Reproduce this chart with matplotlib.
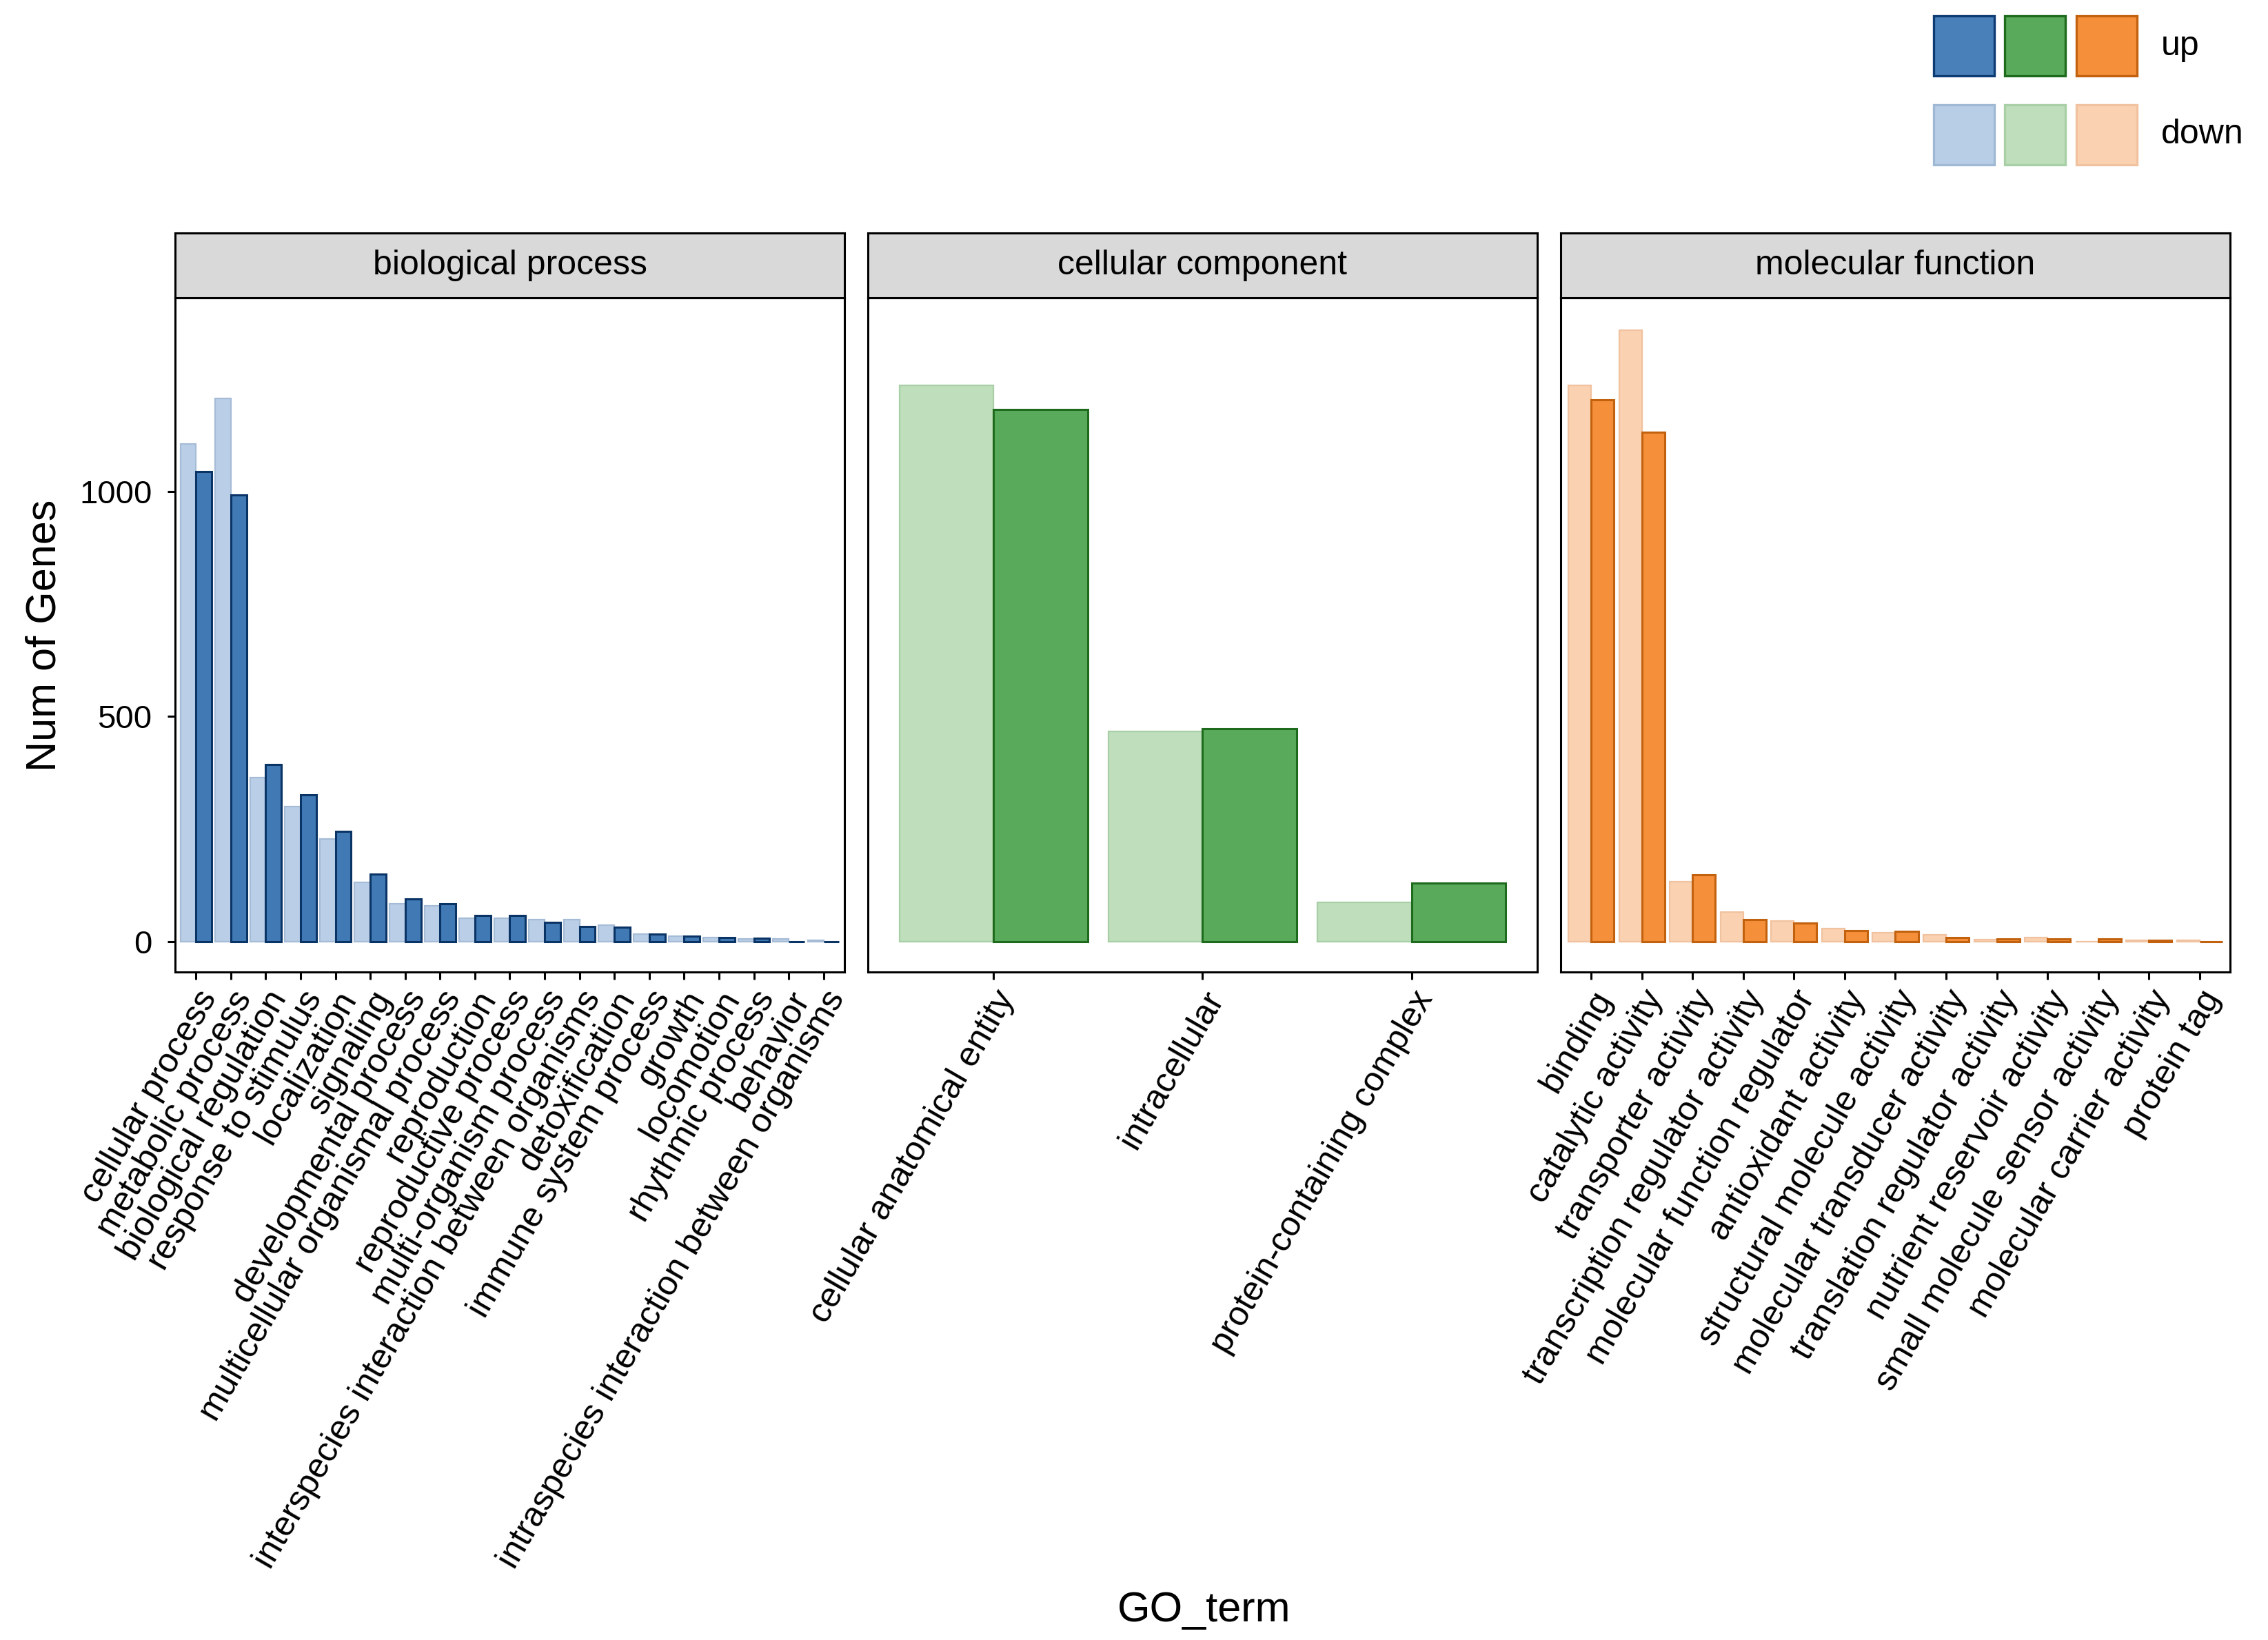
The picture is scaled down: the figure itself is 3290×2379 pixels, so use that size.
import numpy as np
import matplotlib
matplotlib.use("Agg")
import matplotlib.pyplot as plt
from matplotlib.patches import Rectangle

plt.rcParams['font.family'] = ['Liberation Sans', 'DejaVu Sans']

# biological process
bp_terms = ["cellular process", "metabolic process", "biological regulation",
            "response to stimulus", "localization", "signaling",
            "developmental process", "multicellular organismal process",
            "reproduction", "reproductive process", "multi-organism process",
            "interspecies interaction between organisms", "detoxification",
            "immune system process", "growth", "locomotion", "rhythmic process",
            "behavior", "intraspecies interaction between organisms"]
bp_down = [1106, 1206, 364, 300, 228, 131, 84, 79, 51, 51, 49, 49, 36, 17, 12, 9, 5, 6, 3]
bp_up = [1044, 992, 393, 325, 245, 150, 94, 84, 57, 57, 43, 33, 31, 16, 12, 8, 7, 0, 0]

# cellular component
cc_terms = ["cellular anatomical entity", "intracellular", "protein-containing complex"]
cc_down = [1235, 467, 87]
cc_up = [1182, 472, 129]

# molecular function
mf_terms = ["binding", "catalytic activity", "transporter activity",
            "transcription regulator activity", "molecular function regulator",
            "antioxidant activity", "structural molecule activity",
            "molecular transducer activity", "translation regulator activity",
            "nutrient reservoir activity", "small molecule sensor activity",
            "molecular carrier activity", "protein tag"]
mf_down = [1236, 1358, 133, 65, 46, 28, 19, 14, 4, 8, 0, 3, 2]
mf_up = [1203, 1131, 148, 49, 41, 24, 23, 9, 6, 5, 5, 3, 0]

panels = [
    ("biological process", bp_terms, bp_down, bp_up,
     ("#4079B4", "#0B3466"), ("#BACFE7", "#A6BCD6")),
    ("cellular component", cc_terms, cc_down, cc_up,
     ("#59AA5A", "#1E6B1E"), ("#BFDEBC", "#A9CFA6")),
    ("molecular function", mf_terms, mf_down, mf_up,
     ("#F58F3A", "#C2620F"), ("#FBD2B1", "#F1C29F")),
]

W, H = 3291, 2379
fig = plt.figure(figsize=(W / 200, H / 200), dpi=200)

lefts = [254, 1259, 2264]
pw = 971
p_top, p_bot, s_top = 432, 1410, 338

for i, (name, terms, down, up, up_col, dn_col) in enumerate(panels):
    x0 = lefts[i] / W
    ax = fig.add_axes([x0, 1 - p_bot / H, pw / W, (p_bot - p_top) / H])
    x = np.arange(len(terms))
    ax.bar(x - 0.225, down, width=0.45, color=dn_col[0], edgecolor=dn_col[1], linewidth=0.8)
    ax.bar(x + 0.225, up, width=0.45, color=up_col[0], edgecolor=up_col[1], linewidth=1.1)
    ax.set_xlim(-0.6, len(terms) - 0.4)
    ax.set_ylim(-68, 1430)
    ax.set_xticks(x)
    ax.set_xticklabels(terms, rotation=60, ha='right', va='top',
                       rotation_mode='anchor', fontsize=18)
    ax.tick_params(axis='x', length=4, width=1.1, pad=3)
    if i == 0:
        ax.set_yticks([0, 500, 1000])
        ax.tick_params(axis='y', length=4, width=1.1, labelsize=17, pad=8)
    else:
        ax.set_yticks([])
    for sp in ax.spines.values():
        sp.set_linewidth(1.1)
        sp.set_color('black')

    # facet strip
    sax = fig.add_axes([x0, 1 - p_top / H, pw / W, (p_top - s_top) / H])
    sax.set_facecolor("#D9D9D9")
    sax.set_xticks([])
    sax.set_yticks([])
    for sp in sax.spines.values():
        sp.set_linewidth(1.1)
    sax.text(0.5, 0.5, name, ha='center', va='center', fontsize=18,
             transform=sax.transAxes)

fig.text(65 / W, 1 - 922 / H, "Num of Genes", rotation=90, ha='center',
         va='center', fontsize=22)
fig.text(1747 / W, 1 - 2337 / H, "GO_term", ha='center', va='center', fontsize=22)

# legend
key_x = [2805, 2908, 3012]
key_w, key_h = 88, 87
legend_cols = [
    ("up", [("#4A80B9", "#0D3B73"), ("#59AA5A", "#1E6B1E"), ("#F58F3A", "#C2620F")], 23),
    ("down", [("#B8CEE6", "#9FB8D4"), ("#BFDEBC", "#A9CFA6"), ("#FBD2B1", "#F1C29F")], 152),
]
for lab, cols, top in legend_cols:
    for kx, (fc, ec) in zip(key_x, cols):
        fig.add_artist(Rectangle((kx / W, 1 - (top + key_h) / H), key_w / W, key_h / H,
                                 facecolor=fc, edgecolor=ec, linewidth=1.2,
                                 transform=fig.transFigure))
    fig.text(3135 / W, 1 - (top + key_h / 2) / H, lab, ha='left', va='center', fontsize=18)

fig.savefig("out.png", dpi=200)
